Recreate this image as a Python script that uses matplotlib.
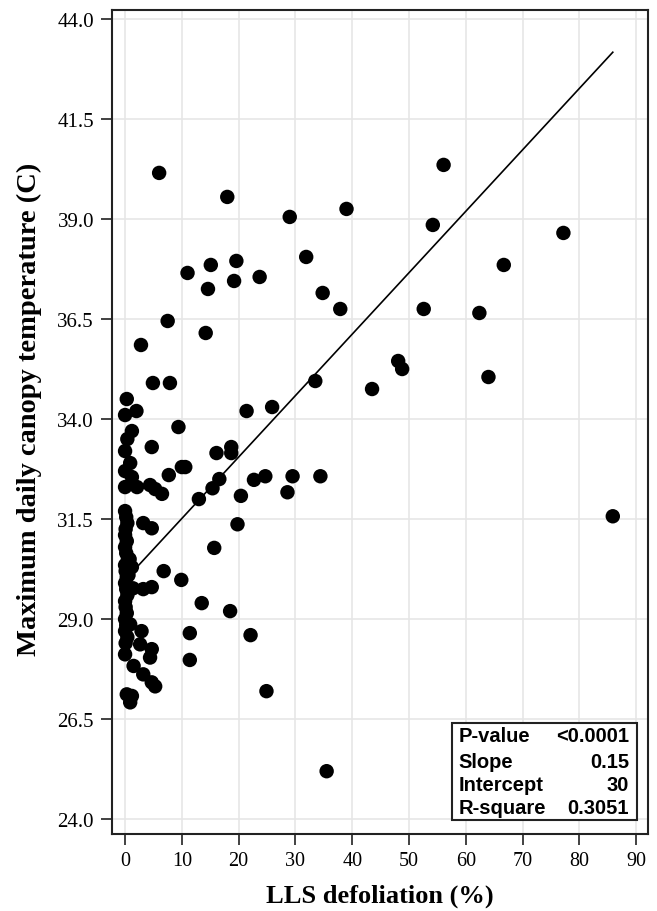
import matplotlib
matplotlib.use('Agg')
import matplotlib.pyplot as plt
from matplotlib.patches import Rectangle
import numpy as np

# LLS defoliation (%) vs maximum daily canopy temperature (C)
defol = [
    6.0, 18.0, 29.0, 56.1, 39.0, 54.2, 77.2, 31.9, 66.7, 11.0,
    15.1, 19.6, 14.6, 19.2, 23.7, 34.8, 37.9, 52.6, 62.4, 7.5,
    14.2, 2.8, 48.1, 48.8, 64.0, 33.5, 43.5, 4.9, 7.9, 0.3,
    0.0, 2.0, 21.4, 25.9, 9.4, 1.2, 0.4, 4.7, 0.0, 16.1,
    18.7, 18.7, 0.9, 0.0, 10.0, 10.6, 7.7, 1.2, 0.0, 2.1,
    4.4, 5.3, 6.5, 16.6, 15.4, 13.0, 20.4, 22.7, 24.7, 29.5,
    28.6, 34.4, 85.9, 19.8, 15.7, 3.2, 4.7, 6.8, 9.9, 3.2,
    4.7, 1.4, 13.5, 18.5, 22.1, 11.4, 11.4, 24.9, 35.5, 0.9,
    2.9, 2.65, 4.7, 4.4, 0.0, 1.5, 3.2, 4.7, 5.3, 0.3,
    1.2, 0.9, 0.8, 0.6, 1.2,
    0.0, 0.2, 0.4, 0.1, 0.0, 0.3, 0.0, 0.2, 0.5, 0.0,
    0.1, 0.3, 0.0, 0.2, 0.4, 0.0, 0.1, 0.3, 0.0, 0.2,
    0.0, 0.4, 0.1,
]
temp = [
    40.15, 39.55, 39.05, 40.35, 39.25, 38.85, 38.65, 38.05, 37.85, 37.65,
    37.85, 37.95, 37.25, 37.45, 37.55, 37.15, 36.75, 36.75, 36.65, 36.45,
    36.15, 35.85, 35.45, 35.25, 35.05, 34.95, 34.75, 34.9, 34.9, 34.5,
    34.1, 34.2, 34.2, 34.3, 33.8, 33.7, 33.5, 33.3, 33.2, 33.15,
    33.3, 33.15, 32.9, 32.7, 32.8, 32.8, 32.6, 32.55, 32.3, 32.3,
    32.35, 32.25, 32.13, 32.5, 32.27, 32.0, 32.08, 32.48, 32.57, 32.57,
    32.17, 32.57, 31.57, 31.37, 30.78, 31.4, 31.27, 30.2, 29.98, 29.75,
    29.8, 29.77, 29.4, 29.2, 28.6, 28.65, 27.98, 27.2, 25.2, 28.87,
    28.7, 28.37, 28.25, 28.04, 28.12, 27.83, 27.62, 27.42, 27.32, 27.12,
    27.08, 26.92, 30.5, 30.1, 30.3,
    31.7, 31.55, 31.4, 31.25, 31.1, 30.95, 30.8, 30.65, 30.5, 30.35,
    30.2, 30.05, 29.9, 29.75, 29.6, 29.45, 29.3, 29.15, 29.0, 28.85,
    28.7, 28.55, 28.4,
]

# regression
intercept = 29.98
slope = 0.1535
stat_names = ['P-value', 'Slope', 'Intercept', 'R-square']
stat_values = ['<0.0001', '0.15', '30', '0.3051']

y_ticks = [24.0, 26.5, 29.0, 31.5, 34.0, 36.5, 39.0, 41.5, 44.0]
x_ticks = [0, 10, 20, 30, 40, 50, 60, 70, 80, 90]

fig = plt.figure(figsize=(6.57, 9.12), dpi=100)
ax = fig.add_axes([0.1705, 0.0844, 0.8158, 0.9035])

ax.grid(True, color='#e6e6e6', linewidth=1.2, zorder=0)
ax.set_axisbelow(True)

ax.scatter(defol, temp, s=108, color='black', edgecolors='none', zorder=3)

xl = np.array([0, max(defol)])
ax.plot(xl, intercept + slope * xl, color='black', linewidth=1.2, zorder=4)

ax.set_xlim(-2.3, 92.1)
ax.set_ylim(23.63, 44.22)
ax.set_xticks(x_ticks)
ax.set_yticks(y_ticks)
ax.set_yticklabels([f'{v:.1f}' for v in y_ticks])

for lab in ax.get_xticklabels():
    lab.set_fontfamily('Liberation Serif')
    lab.set_fontsize(14.5)
for lab in ax.get_yticklabels():
    lab.set_fontfamily('Liberation Serif')
    lab.set_fontsize(15)
ax.tick_params(direction='out', length=8, width=1.3, color='#333333')
ax.tick_params(axis='x', pad=4)
ax.tick_params(axis='y', pad=5)

for s in ax.spines.values():
    s.set_color('#222222')
    s.set_linewidth(1.5)

ax.set_xlabel('LLS defoliation (%)', fontfamily='Liberation Serif', fontweight='bold',
              fontsize=19, labelpad=10)
ax.set_ylabel('Maximum daily canopy temperature (C)', fontfamily='Liberation Serif',
              fontweight='bold', fontsize=20.5)
ax.yaxis.set_label_coords(-0.13, 0.517)

# stats box
ax.add_patch(Rectangle((0.634, 0.017), 0.3455, 0.1177, transform=ax.transAxes,
                       facecolor='white', edgecolor='#222222', linewidth=1.5, zorder=5))
rows_y = [0.119, 0.0886, 0.0595, 0.0316]
for name, val, yy in zip(stat_names, stat_values, rows_y):
    ax.text(0.646, yy, name, transform=ax.transAxes, ha='left', va='center',
            fontfamily='Liberation Sans', fontweight='bold', fontsize=14.5, zorder=6)
    ax.text(0.965, yy, val, transform=ax.transAxes, ha='right', va='center',
            fontfamily='Liberation Sans', fontweight='bold', fontsize=14.5, zorder=6)

fig.savefig('out.png', dpi=100)
